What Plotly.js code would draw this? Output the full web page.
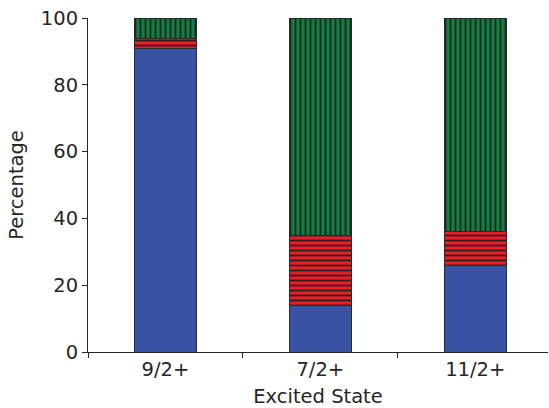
<!DOCTYPE html>
<html><head><meta charset="utf-8">
<script src="https://cdn.plot.ly/plotly-3.0.1.min.js"></script>
<style>html,body{margin:0;padding:0;background:#fff}#chart{width:549px;height:408px}</style>
</head><body><div id="chart"></div>
<script>
const categories = ["9/2+", "7/2+", "11/2+"];
const blueValues = [91, 14, 26];
const redValues = [3, 21, 10];
const greenValues = [6, 65, 64];

const edge = {color: "#2a2a2a", width: 1};
const traces = [
  {type: "bar", x: categories, y: blueValues, width: 0.4, name: "blue",
   marker: {color: "#3953a4", line: edge}},
  {type: "bar", x: categories, y: redValues, width: 0.4, name: "red",
   marker: {color: "#ed1c24", line: edge,
     pattern: {shape: "-", fgcolor: "#222", bgcolor: "#ed1c24", size: 5, solidity: 0.35}}},
  {type: "bar", x: categories, y: greenValues, width: 0.4, name: "green",
   marker: {color: "#0f8040", line: edge,
     pattern: {shape: "|", fgcolor: "#222", bgcolor: "#0f8040", size: 5, solidity: 0.35}}}
];
const font = {family: "DejaVu Sans", size: 19.5, color: "#262626"};
const layout = {
  barmode: "stack", showlegend: false,
  width: 549, height: 408,
  margin: {l: 88, r: 1, t: 18, b: 56},
  paper_bgcolor: "#fff", plot_bgcolor: "#fff",
  font: font,
  xaxis: {type: "category", range: [-0.5, 2.47], tickson: "boundaries",
    ticks: "outside", ticklen: 5, tickcolor: "#262626", showline: true, linecolor: "#262626", linewidth: 1,
    showgrid: false, zeroline: false, tickfont: font,
    title: {text: "Excited State", font: font, standoff: 9}},
  yaxis: {range: [0, 100], tickvals: [0, 20, 40, 60, 80, 100],
    ticks: "outside", ticklen: 5, tickcolor: "#262626", showline: true, linecolor: "#262626", linewidth: 1,
    showgrid: false, zeroline: false, tickfont: font,
    title: {text: "Percentage", font: font, standoff: 12}}
};
Plotly.newPlot("chart", traces, layout, {displayModeBar: false, staticPlot: true});
</script></body></html>
